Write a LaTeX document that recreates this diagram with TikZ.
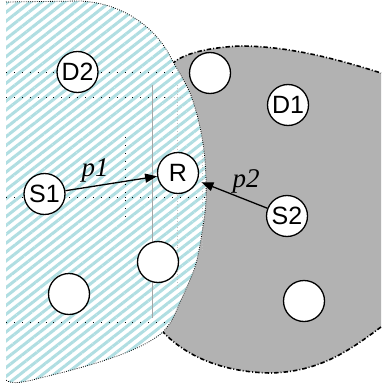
\documentclass[tikz,border=0pt]{standalone}
\usepackage{fontspec}
\setmainfont{Liberation Sans}
\newfontfamily\serifit{Liberation Serif}
\usetikzlibrary{arrows.meta,patterns.meta}
\definecolor{hatchc}{RGB}{176,222,226}
\definecolor{regiongray}{RGB}{178,178,178}
\tikzset{
  station/.style={circle, draw=black, line width=1.3pt, fill=white, minimum size=41pt, inner sep=0pt, font=\fontsize{25}{25}\selectfont},
  link/.style={line width=1.3pt, -{Triangle[length=12pt,width=9pt]}},
  plabel/.style={font=\serifit\itshape\fontsize{27}{27}\selectfont, inner sep=0pt},
  gridblack/.style={black, line width=0.9pt, dash pattern=on 0.9pt off 7pt},
  gridgray/.style={gray!50, line width=0.9pt, dash pattern=on 0.9pt off 2pt},
  hatchborder/.style={black, line width=0.8pt, dash pattern=on 0.8pt off 1.4pt},
  grayborder/.style={black, line width=1.6pt, dash pattern=on 4.5pt off 2pt on 1pt off 2pt}
}
\def\hatchpath{(6,2) -- (80,1) .. controls (125,3) and (158,30) .. (172,60)
  -- plot[smooth] coordinates {(172,60) (190,93) (200,127) (205,160) (206,200) (202,233) (195,267) (181,300) (172,320) (163,332)}
  .. controls (140,352) and (90,366) .. (40,378)
  .. controls (25,382) and (12,385) .. (6,380)}
\begin{document}
\begin{tikzpicture}[x=1pt,y=-1pt]
\useasboundingbox (0,0) rectangle (381,390);
% gray region
\fill[regiongray] (172,64) .. controls (180,56) and (200,48) .. (240,46)
  .. controls (290,46) and (340,60) .. (381,73) -- (381,327)
  .. controls (350,350) and (320,372) .. (270,373)
  .. controls (220,372) and (185,355) .. (163,332) -- (150,200) -- cycle;
\draw[grayborder] (172,64) .. controls (180,56) and (200,48) .. (240,46)
  .. controls (290,46) and (340,60) .. (381,73);
\draw[grayborder] (381,327) .. controls (350,350) and (320,372) .. (270,373)
  .. controls (220,372) and (185,355) .. (163,332);
% hatched region
\path[fill=white] \hatchpath -- cycle;
\path[pattern={Lines[angle=38,distance=7pt,line width=3pt]}, pattern color=hatchc] \hatchpath -- cycle;
% grid lines
\draw[gridblack] (6,72) -- (172,72);
\draw[gridblack] (6,97) -- (165,97);
\draw[gridgray] (165,97) -- (185,97);
\draw[gridblack] (6,197) -- (205,197);
\draw[gridblack] (6,322) -- (165,322);
\draw[gridblack] (125,137) -- (125,222);
\draw[gray!70, line width=0.6pt] (152,85) -- (152,318);
\draw[gridgray] (177,85) -- (177,290);
\draw[gridgray] (202,150) -- (202,250);
% hatched border
\draw[hatchborder] \hatchpath;
% nodes
\node[station] (D2) at (77.5,72) {D2};
\node[station] (E1) at (210,73) {};
\node[station] (D1) at (288,105) {D1};
\node[station] (R) at (178,173) {R};
\node[station] (S1) at (44.5,194) {S1};
\node[station] (S2) at (287,216) {S2};
\node[station] (E2) at (158,262) {};
\node[station] (E3) at (69,294) {};
\node[station] (E4) at (304,301) {};
% links
\draw[link] (S1) -- (R);
\draw[link, shorten >=4pt] (S2) -- (R);
\node[plabel] (p1) at (95,170) {p1};
\node[plabel] (p2) at (246,181) {p2};
\end{tikzpicture}
\end{document}
